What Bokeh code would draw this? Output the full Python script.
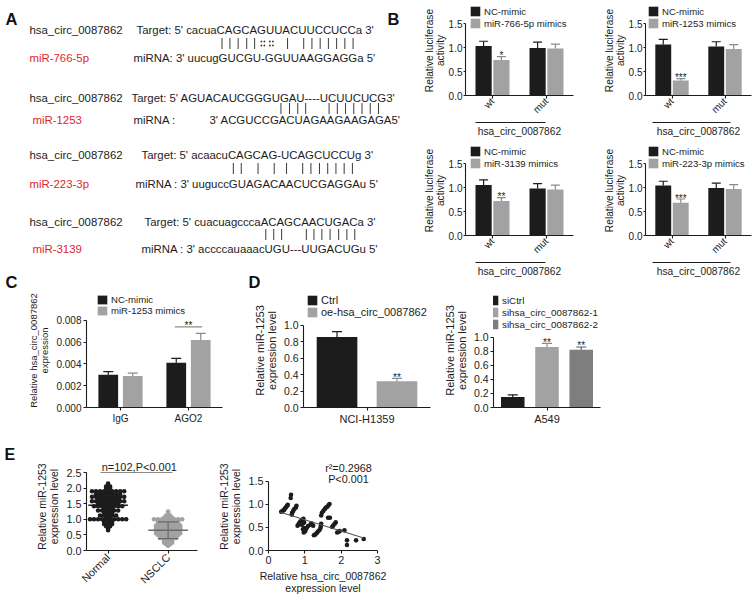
import numpy as np
from math import pi
from bokeh.plotting import figure
from bokeh.models import (ColumnDataSource, FactorRange, Range1d, Legend, LegendItem,
                          Label, CategoricalAxis, FixedTicker, PrintfTickFormatter, Spacer)
from bokeh.transform import dodge
from bokeh.layouts import row, column
from bokeh.core.properties import value
from bokeh.embed import file_html
from bokeh.resources import INLINE

# ---------------- data ----------------
circ_name = "hsa_circ_0087862"
mir_names = ["miR-766-5p", "miR-1253", "miR-223-3p", "miR-3139"]
target_lines = [
    "Target: 5' cacuaCAGCAGUUACUUCCUCCa 3'",
    "Target:  5' AGUACAUCGGGUGAU----UCUUCUCG3'",
    "Target: 5' acaacuCAGCAG-UCAGCUCCUg 3'",
    "Target: 5' cuacuagcccaACAGCAACUGACa 3'",
]
pair_lines = [
    " " * 16 + "|||||:: | |||||||",
    " " * 12 + "           ||||    ||||||| ",
    " " * 17 + "|| | | | |||||||",
    " " * 22 + "|||  |||||||",
]
mirna_lines = [
    "miRNA: 3' uucugGUCGU-GGUUAAGGAGGa 5'",
    "miRNA :",
    "miRNA : 3' uuguccGUAGACAACUCGAGGAu 5'",
    "miRNA : 3' accccauaaacUGU---UUGACUGu 5'",
]
mirna_row2_seq = "3' ACGUCCGACUAGAAGAAGAGA5'"

b_sites = ["wt", "mut"]
b_mimics = ["miR-766-5p mimics", "miR-1253 mimics", "miR-3139 mimics", "miR-223-3p mimics"]
b_nc = [[1.03, 0.99], [1.06, 1.02], [1.05, 0.98], [1.04, 0.99]]
b_nc_err = [[0.10, 0.12], [0.11, 0.10], [0.11, 0.10], [0.09, 0.10]]
b_mi = [[0.74, 0.98], [0.31, 0.97], [0.72, 0.96], [0.68, 0.97]]
b_mi_err = [[0.07, 0.09], [0.04, 0.09], [0.07, 0.09], [0.08, 0.09]]
b_stars = ["*", "***", "**", "***"]
b_ticks = [0, 0.5, 1.0, 1.5]

c_groups = ["IgG", "AGO2"]
c_series = ["NC-mimic", "miR-1253 mimics"]
c_nc = [0.0030, 0.0041]
c_nc_err = [0.0003, 0.0004]
c_mi = [0.0029, 0.0062]
c_mi_err = [0.00025, 0.0006]
c_sig_group = ["AGO2"]
c_sig_level = [0.0074]
c_sig_text = ["**"]
c_ticks = [0, 0.002, 0.004, 0.006, 0.008]

d1_cell = ["NCI-H1359"]
d1_series = ["Ctrl", "oe-hsa_circ_0087862"]
d1_vals = [0.86, 0.32]
d1_errs = [0.065, 0.035]
d1_stars = ["", "**"]
d2_cell = ["A549"]
d2_series = ["siCtrl", "sihsa_circ_0087862-1", "sihsa_circ_0087862-2"]
d2_vals = [0.15, 0.86, 0.82]
d2_errs = [0.03, 0.05, 0.04]
d2_stars = ["", "**", "**"]
d_ticks = [0, 0.2, 0.4, 0.6, 0.8, 1.0]

e_groups = ["Normal", "NSCLC"]
normal_levels = [2.15, 2.10, 2.05, 2.00, 1.90, 1.85, 1.80, 1.72, 1.65, 1.58, 1.50, 1.42,
                 1.35, 1.28, 1.20, 1.12, 1.05, 1.00, 0.92, 0.85, 0.78, 0.70, 0.65]
normal_counts = [1, 1, 2, 2, 9, 3, 7, 9, 6, 9, 6, 8, 3, 6, 3, 5, 2, 10, 3, 3, 2, 1, 1]
nsclc_levels = [1.25, 1.20, 1.12, 1.05, 1.00, 0.95, 0.90, 0.85, 0.80, 0.75, 0.70, 0.65,
                0.60, 0.55, 0.50, 0.45, 0.40, 0.35, 0.30, 0.25, 0.20, 0.15]
nsclc_counts = [1, 1, 2, 3, 8, 6, 6, 6, 7, 7, 7, 7, 6, 7, 6, 5, 5, 3, 3, 3, 2, 1]
e_means = [1.45, 0.65]
e_sds = [0.36, 0.27]
e_note = "n=102,P<0.001"
e1_ticks = [0, 0.5, 1.0, 1.5, 2.0, 2.5]

e2_x = [0.35, 0.39, 0.43, 0.45, 0.48, 0.51, 0.53, 0.62, 0.61, 0.64, 0.65, 0.68, 0.71, 0.75, 0.77,
        0.80, 0.83, 0.85, 0.88, 0.91, 0.94, 0.96, 0.91, 0.95, 0.98, 0.95, 0.98, 1.02, 1.05, 0.97,
        1.01, 1.09, 1.15, 1.18, 1.23,
        1.25, 1.29, 1.33, 1.36, 1.40, 1.43, 1.44, 1.45,
        1.45, 1.47, 1.51, 1.55, 1.58, 1.62, 1.65, 1.68, 1.64, 1.69,
        1.75, 1.78, 1.82, 1.85, 1.89, 1.93, 1.96, 2.09, 2.16, 2.16, 2.41, 2.62]
e2_y = [0.84, 0.86, 0.88, 0.91, 0.94, 0.97, 0.99, 1.21, 1.14, 0.78, 0.82, 0.86, 0.90, 0.93, 0.97,
        0.54, 0.57, 0.60, 0.63, 0.65, 0.67, 0.69, 0.56, 0.59, 0.61, 0.46, 0.49, 0.46, 0.49, 0.39,
        0.42, 0.53, 0.56, 0.59, 0.54,
        0.33, 0.35, 0.38, 0.41, 0.44, 0.49, 0.53, 0.58,
        0.76, 0.82, 0.86, 0.90, 0.93, 0.95, 0.98, 1.01, 0.71, 0.71,
        0.51, 0.54, 0.58, 0.61, 0.39, 0.41, 0.42, 0.44, 0.22, 0.12, 0.22, 0.25]
reg_x = [0.33, 2.62]
reg_y = [0.83, 0.27]
e2_r2 = "r\u00b2=0.2968"
e2_p = "P<0.001"

# ---------------- style ----------------
FONT = "Liberation Sans"
INK = "#1c1c1c"
GREY = "#a2a2a2"
DGREY = "#7e7e7e"
ERRG = "#8a8a8a"
RED = "#e0262b"
AW = {' ': 278, "'": 191, '-': 333, ':': 278, '3': 556, '5': 556, 'A': 667, 'C': 722,
      'G': 778, 'T': 611, 'U': 722, 'a': 556, 'c': 500, 'e': 556, 'g': 556, 'r': 333,
      't': 278, 'u': 556}
LEG_EXTRA = {}
if "item_background_policy" in Legend.properties():
    LEG_EXTRA["item_background_policy"] = "none"


def base_fig(w, h, xr, yr, l, r, t, b):
    p = figure(width=w, height=h, x_range=xr, y_range=yr, output_backend="svg",
               toolbar_location=None, min_border_left=l, min_border_right=r,
               min_border_top=t, min_border_bottom=b)
    p.grid.visible = False
    p.outline_line_color = None
    return p


def style_axis(ax, fs, lfs):
    ax.axis_line_color = INK
    ax.axis_line_width = 1.1
    ax.major_tick_line_color = INK
    ax.major_tick_line_width = 1.1
    ax.major_tick_in = 0
    ax.major_tick_out = 3
    ax.minor_tick_line_color = None
    ax.major_label_text_font = FONT
    ax.major_label_text_font_size = fs
    ax.major_label_text_color = INK
    ax.major_label_standoff = 2
    ax.axis_label_text_font = FONT
    ax.axis_label_text_font_size = lfs
    ax.axis_label_text_font_style = "normal"
    ax.axis_label_text_color = INK
    ax.axis_label_text_line_height = 1.0
    ax.axis_label_standoff = 3


def add_legend(p, items, loc, fs, pitch=12):
    lg = Legend(items=[LegendItem(label=lab, renderers=[rr]) for lab, rr in items],
                location=loc, orientation="vertical", margin=0, padding=0, spacing=0,
                glyph_width=12, glyph_height=pitch, label_height=pitch, label_standoff=3,
                label_text_font=FONT, label_text_font_size=fs, label_text_color=INK,
                border_line_color=None, background_fill_alpha=0, **LEG_EXTRA)
    p.add_layout(lg)


def errbar(p, col, off, lo, hi, src, color, cap):
    xx = dodge(col, off, range=p.x_range)
    p.segment(x0=xx, y0=lo, x1=xx, y1=hi, source=src, line_color=color, line_width=1.2)
    p.scatter(x=xx, y=hi, source=src, marker="dash", size=cap, line_color=color, line_width=1.2)


def star(p, col, off, y, src, fs):
    p.text(x=dodge(col, off, range=p.x_range), y=y, text="star", source=src,
           text_align="center", text_baseline="alphabetic", y_offset=-1,
           text_font=value(FONT), text_font_size=fs, text_color=INK)


# ---------------- panel A (text) ----------------
figA = base_fig(400, 292, Range1d(0, 400), Range1d(292, 0), 0, 0, 0, 0)
figA.axis.visible = False
row_t = [29, 97, 154, 221]
row_p = [43, 108, 168, 234]
row_m = [57, 119, 183, 248]
mir_x = [29, 32, 29, 32]
tgt_x = [136, 131, 141, 144]
mrn_x = [133, 133, 135, 141]
FS = 11.4
tx, ty, tt, tc = [], [], [], []
bar_x, bar_y, dot_x, dot_y = [], [], [], []
for i in range(4):
    tx += [29, tgt_x[i], mir_x[i], mrn_x[i]]
    ty += [row_t[i], row_t[i], row_m[i], row_m[i]]
    tt += [circ_name, target_lines[i], mir_names[i], mirna_lines[i]]
    tc += [INK, INK, RED, INK]
    xcur = tgt_x[i]
    centers = []
    for ch in target_lines[i]:
        wdt = AW.get(ch, 556) * FS / 1000
        centers.append(xcur + wdt / 2)
        xcur += wdt
    for j, ch in enumerate(pair_lines[i]):
        if ch == "|":
            bar_x.append(centers[j]); bar_y.append(row_p[i])
        elif ch == ":":
            dot_x += [centers[j] - 1.5, centers[j] + 1.5, centers[j] - 1.5, centers[j] + 1.5]
            dot_y += [row_p[i] - 2, row_p[i] - 2, row_p[i] + 2, row_p[i] + 2]
tx.append(209); ty.append(row_m[1]); tt.append(mirna_row2_seq); tc.append(INK)
figA.text(x=tx, y=ty, text=tt, text_color=tc, text_font=value(FONT), text_font_size=f"{FS}px",
          text_baseline="middle", text_align="left")
bx = np.array(bar_x); by = np.array(bar_y)
figA.segment(x0=bx, x1=bx, y0=by - 5.5, y1=by + 5.5, line_color="#3a3a3a", line_width=1)
figA.scatter(dot_x, dot_y, size=1.8, fill_color="#3a3a3a", line_color=None)
figA.text(x=[5, 393, 5, 248], y=[18, 18, 281, 281], text=["A", "B", "C", "D"],
          text_color="#111111", text_font=value(FONT), text_font_size="16.5px",
          text_font_style="bold", text_baseline="middle", text_align=["left", "center", "left", "left"])


# ---------------- panel B ----------------
def b_chart(k, w, h, l, r, b, lx, line_bounds):
    p = base_fig(w, h, FactorRange(*b_sites), Range1d(0, 1.875), l, r, 5, b)
    src = ColumnDataSource(dict(
        site=b_sites, nc=b_nc[k], mi=b_mi[k],
        nc_up=[v + e for v, e in zip(b_nc[k], b_nc_err[k])],
        mi_up=[v + e for v, e in zip(b_mi[k], b_mi_err[k])],
        star=[b_stars[k], ""]))
    r1 = p.vbar(x=dodge("site", -0.165, range=p.x_range), top="nc", width=0.3, source=src,
                fill_color=INK, line_color=None)
    r2 = p.vbar(x=dodge("site", 0.165, range=p.x_range), top="mi", width=0.3, source=src,
                fill_color=GREY, line_color=None)
    errbar(p, "site", -0.165, "nc", "nc_up", src, INK, 9)
    errbar(p, "site", 0.165, "mi", "mi_up", src, ERRG, 9)
    star(p, "site", 0.165, "mi_up", src, "10px")
    for ax in p.axis:
        style_axis(ax, "10px", "10.2px")
    p.yaxis.ticker = FixedTicker(ticks=b_ticks)
    p.yaxis.formatter = PrintfTickFormatter(format="%.1f")
    p.yaxis.bounds = (b_ticks[0], b_ticks[-1])
    p.yaxis.axis_label = "Relative luciferase\nactivity"
    p.yaxis.major_tick_out = 2
    p.yaxis.major_label_standoff = 1
    p.yaxis.axis_label_standoff = 0
    p.xaxis.major_label_orientation = pi / 4
    p.xaxis.major_label_standoff = 1
    ax2 = CategoricalAxis(bounds=line_bounds, axis_label=circ_name, ticker=FixedTicker(ticks=[]))
    style_axis(ax2, "10px", "10.2px")
    ax2.major_tick_line_color = None
    ax2.major_tick_out = 0
    ax2.major_label_standoff = 0
    ax2.axis_label_standoff = 3
    p.add_layout(ax2, "below")
    add_legend(p, [("NC-mimic", r1), (b_mimics[k], r2)], (lx, 66), "9.6px")
    return p


bTL = b_chart(0, 178, 140, 65, 5, 45, 4, (0.185, 1.48))
bTR = b_chart(1, 174, 140, 67, 1, 45, 2, (0.13, 1.6))
bBL = b_chart(2, 178, 152, 65, 5, 57, 4, (0.185, 1.48))
bBR = b_chart(3, 174, 152, 67, 1, 57, 2, (0.13, 1.6))

# ---------------- panel C ----------------
figC = base_fig(250, 148, FactorRange(*c_groups), Range1d(0, 0.01046), 86, 28, 0, 29)
csrc = ColumnDataSource(dict(grp=c_groups, nc=c_nc, mi=c_mi,
                             nc_up=[v + e for v, e in zip(c_nc, c_nc_err)],
                             mi_up=[v + e for v, e in zip(c_mi, c_mi_err)]))
c1 = figC.vbar(x=dodge("grp", -0.18, range=figC.x_range), top="nc", width=0.29, source=csrc,
               fill_color=INK, line_color=None)
c2 = figC.vbar(x=dodge("grp", 0.18, range=figC.x_range), top="mi", width=0.29, source=csrc,
               fill_color=GREY, line_color=None)
errbar(figC, "grp", -0.18, "nc", "nc_up", csrc, INK, 10)
errbar(figC, "grp", 0.18, "mi", "mi_up", csrc, ERRG, 10)
sig = ColumnDataSource(dict(grp=c_sig_group, y=c_sig_level, star=c_sig_text))
figC.segment(x0=dodge("grp", -0.2, range=figC.x_range), x1=dodge("grp", 0.2, range=figC.x_range),
             y0="y", y1="y", source=sig, line_color="#8c8c8c", line_width=1.2)
star(figC, "grp", 0.0, "y", sig, "10px")
for ax in figC.axis:
    style_axis(ax, "10px", "9.5px")
figC.yaxis.ticker = FixedTicker(ticks=c_ticks)
figC.yaxis.formatter = PrintfTickFormatter(format="%.3f")
figC.yaxis.bounds = (c_ticks[0], c_ticks[-1])
figC.yaxis.axis_label = "Relative hsa_circ_0087862\nexpression"
add_legend(figC, [(c_series[0], c1), (c_series[1], c2)], (10, 91), "9.6px", pitch=11)


# ---------------- panel D ----------------
def d_chart(w, l, r, t, b, top, cell, series, vals, errs, stars, offs, bw, colors, ecolors, loc, lfs):
    p = base_fig(w, 148, FactorRange(*cell), Range1d(0, top), l, r, t, b)
    items = []
    for i in range(len(series)):
        s = ColumnDataSource(dict(cell=cell, v=[vals[i]], up=[vals[i] + errs[i]], star=[stars[i]]))
        rr = p.vbar(x=dodge("cell", offs[i], range=p.x_range), top="v", width=bw, source=s,
                    fill_color=colors[i], line_color=None)
        errbar(p, "cell", offs[i], "v", "up", s, ecolors[i], 10)
        star(p, "cell", offs[i], "up", s, "10px")
        items.append((series[i], rr))
    for ax in p.axis:
        style_axis(ax, "10.5px", "11px")
    p.xaxis.major_label_text_font_size = "11px"
    p.yaxis.ticker = FixedTicker(ticks=d_ticks)
    p.yaxis.formatter = PrintfTickFormatter(format="%.1f")
    p.yaxis.bounds = (d_ticks[0], d_ticks[-1])
    p.yaxis.axis_label = "Relative miR-1253\nexpression level"
    add_legend(p, items, loc, lfs)
    return p


figD1 = d_chart(190, 53, 10, 1, 33, 1.39, d1_cell, d1_series, d1_vals, d1_errs, d1_stars,
                [-0.236, 0.236], 0.32, [INK, GREY], [INK, ERRG], (3, 89), "11px")
figD2 = d_chart(163, 47, 3, 1, 32, 1.62, d2_cell, d2_series, d2_vals, d2_errs, d2_stars,
                [-0.32, 0.0, 0.32], 0.22, [INK, GREY, DGREY], [INK, ERRG, "#5a5a5a"], (-6, 77),
                "9.8px")

# ---------------- panel E ----------------
figE1 = base_fig(215, 156, Range1d(-0.36, 1.49), Range1d(0, 2.821), 86, 18, 22, 46)
step = 0.067
for gi, (levels, counts, col) in enumerate([(normal_levels, normal_counts, INK),
                                            (nsclc_levels, nsclc_counts, GREY)]):
    xs, ys = [], []
    for lv, n in zip(levels, counts):
        for kk in range(n):
            xs.append(gi + (kk - (n - 1) / 2) * step)
            ys.append(lv)
    figE1.scatter(xs, ys, size=4.6, fill_color=col, line_color=None)
grp_idx = np.arange(len(e_groups))
mm = np.array(e_means)
sd = np.array(e_sds)
lc = [INK, "#6a6a6a"]
figE1.segment(x0=grp_idx - 0.33, x1=grp_idx + 0.33, y0=mm, y1=mm, line_color=lc, line_width=1.4)
figE1.segment(x0=grp_idx, x1=grp_idx, y0=mm - sd, y1=mm + sd, line_color=lc, line_width=1.2)
figE1.segment(x0=grp_idx - 0.17, x1=grp_idx + 0.17, y0=mm + sd, y1=mm + sd, line_color=lc, line_width=1.2)
figE1.segment(x0=grp_idx - 0.17, x1=grp_idx + 0.17, y0=mm - sd, y1=mm - sd, line_color=lc, line_width=1.2)
figE1.segment(x0=[grp_idx[0] - 0.125], x1=[grp_idx[-1] + 0.075], y0=[e1_ticks[-1]], y1=[e1_ticks[-1]],
              line_color="#8c8c8c", line_width=1.2)
figE1.add_layout(Label(x=grp_idx.mean() + 0.02, y=e1_ticks[-1], text=e_note, y_offset=6,
                       text_align="center", text_baseline="middle", text_font=FONT,
                       text_font_size="11px", text_color=INK))
figE1.title.text = "E"
figE1.title.align = "left"
figE1.title.offset = -82
figE1.title.standoff = 0
figE1.title.text_font = FONT
figE1.title.text_font_size = "16px"
figE1.title.text_font_style = "bold"
figE1.title.text_color = "#111111"
for ax in figE1.axis:
    style_axis(ax, "10.8px", "10.5px")
figE1.yaxis.ticker = FixedTicker(ticks=e1_ticks)
figE1.yaxis.formatter = PrintfTickFormatter(format="%.1f")
figE1.yaxis.bounds = (e1_ticks[0], e1_ticks[-1])
figE1.yaxis.axis_label = "Relative miR-1253\nexpression level"
figE1.xaxis.ticker = FixedTicker(ticks=[int(i) for i in grp_idx])
figE1.xaxis.major_label_overrides = {int(i): g for i, g in zip(grp_idx, e_groups)}
figE1.xaxis.major_label_orientation = pi / 4

e2_yticks = [0, 0.5, 1.0, 1.5]
figE2 = base_fig(185, 156, Range1d(0, 3), Range1d(0, 1.911), 52, 23, 17, 46)
figE2.scatter(e2_x, e2_y, size=4.6, fill_color=INK, line_color=None)
figE2.line(reg_x, reg_y, line_color="#555555", line_width=1.1)
figE2.add_layout(Label(x=2.2, y=e2_yticks[-1], text=e2_r2, y_offset=13, text_align="center",
                       text_baseline="middle", text_font=FONT, text_font_size="10.8px", text_color=INK))
figE2.add_layout(Label(x=2.2, y=e2_yticks[-1], text=e2_p, y_offset=2, text_align="center",
                       text_baseline="middle", text_font=FONT, text_font_size="10.8px", text_color=INK))
for ax in figE2.axis:
    style_axis(ax, "10.8px", "10.5px")
figE2.xaxis.ticker = FixedTicker(ticks=[0, 1, 2, 3])
figE2.yaxis.ticker = FixedTicker(ticks=e2_yticks)
figE2.yaxis.formatter = PrintfTickFormatter(format="%.1f")
figE2.yaxis.bounds = (e2_yticks[0], e2_yticks[-1])
figE2.yaxis.axis_label = "Relative miR-1253\nexpression level"
figE2.xaxis.axis_label = "Relative hsa_circ_0087862\nexpression level"

# ---------------- layout ----------------
top = row(figA, column(row(bTL, bTR), row(bBL, bBR)))
mid = row(figC, figD1, figD2, Spacer(width=149, height=148))
bot = row(figE1, figE2, Spacer(width=352, height=156))
layout = column(top, mid, bot)

open("out.html", "w").write(file_html(layout, INLINE, "figure"))
